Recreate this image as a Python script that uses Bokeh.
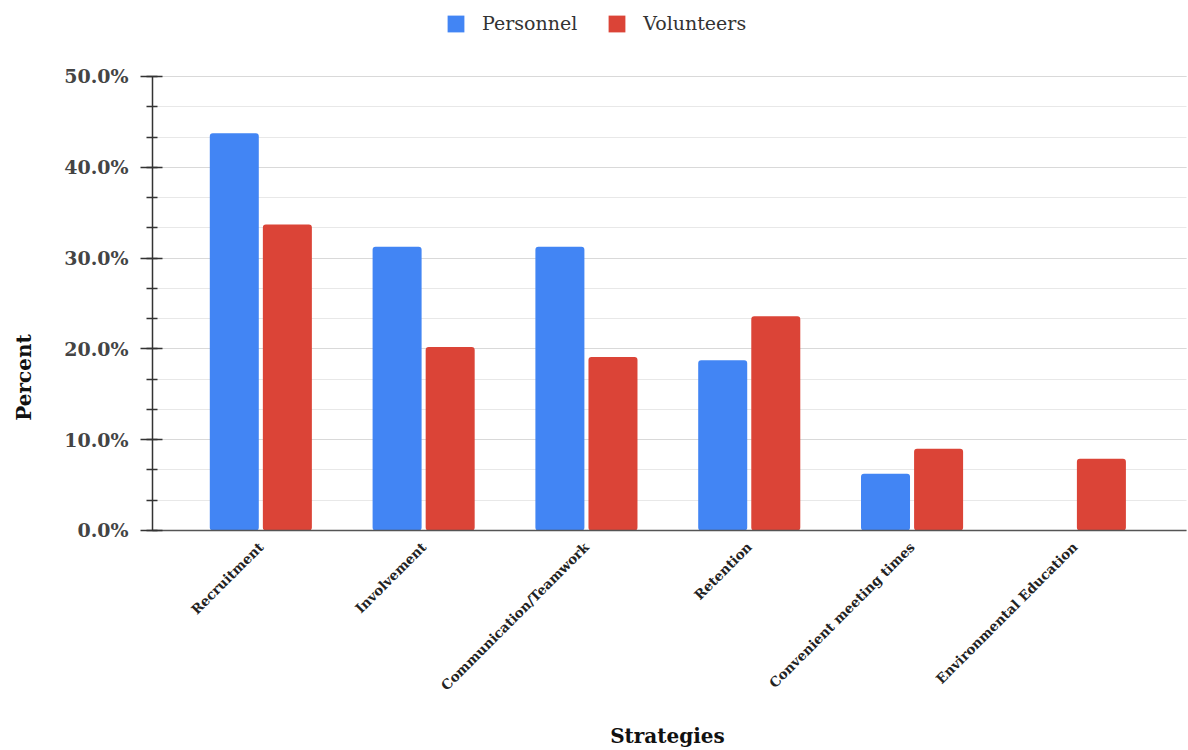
from math import pi

from bokeh.embed import file_html
from bokeh.models import (ColumnDataSource, FixedTicker, Label, Legend,
                          LegendItem, PrintfTickFormatter, Range1d,
                          SingleIntervalTicker)
from bokeh.plotting import figure
from bokeh.resources import INLINE

# Share of respondents naming each strategy (percent)
strategies = ["Recruitment", "Involvement", "Communication/Teamwork",
              "Retention", "Convenient meeting times", "Environmental Education"]
personnel = [43.75, 31.25, 31.25, 18.75, 6.25, 0.0]
volunteers = [33.7, 20.2, 19.1, 23.6, 9.0, 7.9]
y_max = 50

BLUE = "#4285F4"
RED = "#DB4437"
SERIF = "DejaVu Serif"

W, H = 1188, 750
xs = list(range(len(strategies)))
bar_w = 0.301
offset = 0.163

# the plotting area spans the whole canvas; axes sit at fixed locations inside it
x_lo, x_hi = -0.665, 5.686          # extent of the axis line / grid
x_view = (-1.599, 5.698)
y_view = (-24.23, 58.37)

src = ColumnDataSource(dict(
    x_p=[x - offset for x in xs],
    x_v=[x + offset for x in xs],
    personnel=personnel,
    volunteers=volunteers,
))

p = figure(width=W, height=H, output_backend="svg", toolbar_location=None,
           x_range=Range1d(*x_view), y_range=Range1d(*y_view),
           min_border=0)
p.outline_line_color = None
p.background_fill_color = "white"
p.border_fill_color = "white"

# horizontal grid, major and minor
y_ticker = SingleIntervalTicker(interval=10, num_minor_ticks=3)
p.ygrid.ticker = y_ticker
p.ygrid.bounds = (-0.01, y_max + 0.01)
p.ygrid.cross_bounds = (x_lo, x_hi)
p.ygrid.grid_line_color = "#d9d9d9"
p.ygrid.minor_grid_line_color = "#e8e8e8"
p.xgrid.grid_line_color = None

r_p = p.vbar(x="x_p", top="personnel", width=bar_w, source=src,
             fill_color=BLUE, line_color=None, border_radius=3)
r_v = p.vbar(x="x_v", top="volunteers", width=bar_w, source=src,
             fill_color=RED, line_color=None, border_radius=3)

# y axis
ya = p.yaxis[0]
ya.fixed_location = x_lo
ya.bounds = (0, y_max)
ya.ticker = y_ticker
ya.formatter = PrintfTickFormatter(format="%.1f%%")
ya.major_label_text_font = SERIF
ya.major_label_text_font_size = "19px"
ya.major_label_text_font_style = "bold"
ya.major_label_text_color = "#444444"
ya.major_label_standoff = 12
ya.axis_line_color = "#333333"
ya.axis_line_width = 1.5
ya.major_tick_line_color = "#333333"
ya.major_tick_line_width = 1.5
ya.major_tick_out = 12
ya.major_tick_in = 10
ya.minor_tick_line_color = "#333333"
ya.minor_tick_line_width = 1.5
ya.minor_tick_out = 6
ya.minor_tick_in = 5

# x axis: one rotated label per strategy, no ticks
xa = p.xaxis[0]
xa.fixed_location = 0
xa.bounds = (x_lo, x_hi)
xa.ticker = FixedTicker(ticks=xs)
xa.major_label_overrides = {i: s for i, s in enumerate(strategies)}
xa.major_label_orientation = pi / 4
xa.major_label_text_font = SERIF
xa.major_label_text_font_size = "13.5px"
xa.major_label_text_font_style = "bold"
xa.major_label_text_color = "#222222"
xa.major_label_standoff = 8
xa.major_tick_line_color = None
xa.minor_tick_line_color = None
xa.axis_line_color = "#555555"
xa.axis_line_width = 1.5

# axis titles (screen units measured from the bottom-left corner)
p.add_layout(Label(x=23, y=H - 377, x_units="screen", y_units="screen",
                   text="Percent", angle=pi / 2, text_align="center",
                   text_baseline="middle", text_font=SERIF,
                   text_font_size="20px", text_font_style="bold",
                   text_color="#111111"))
p.add_layout(Label(x=667, y=H - 735, x_units="screen", y_units="screen",
                   text="Strategies", text_align="center",
                   text_baseline="middle", text_font=SERIF,
                   text_font_size="20px", text_font_style="bold",
                   text_color="#111111"))

# legend: location is the bottom-left corner of the legend box
legend = Legend(items=[LegendItem(label="Personnel", renderers=[r_p]),
                       LegendItem(label="Volunteers", renderers=[r_v])],
                orientation="horizontal", location=(445, H - 34),
                padding=0, margin=0, spacing=29, label_standoff=16,
                glyph_width=21, glyph_height=21, label_height=21,
                label_text_font=SERIF, label_text_font_size="19px",
                label_text_color="#333333", border_line_color=None,
                background_fill_alpha=0)
p.add_layout(legend, "center")

open("out.html", "w").write(file_html(p, INLINE))
